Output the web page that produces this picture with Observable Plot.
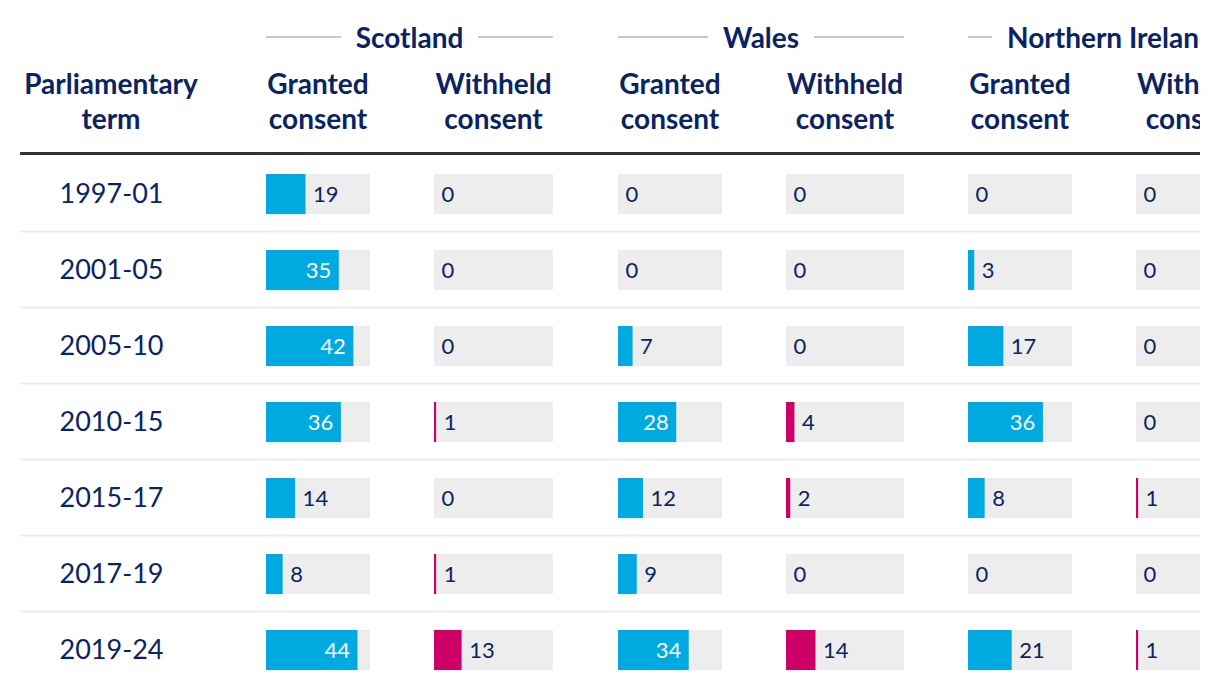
<!DOCTYPE html>
<html>
<head>
<meta charset="utf-8">
<script src="https://cdn.jsdelivr.net/npm/d3@7"></script>
<script src="https://cdn.jsdelivr.net/npm/@observablehq/plot@0.6"></script>
<style>
  html, body { margin: 0; padding: 0; background: #fff; }
  body { font-family: Lato, "Noto Sans", sans-serif; color: #0a2463; }
  #chart { position: relative; width: 1200px; height: 696px; overflow: hidden; }
  .group { position: absolute; top: 20px; height: 34px; display: flex; align-items: center; font-weight: 700; font-size: 28px; white-space: nowrap; }
  .group .line { flex: 1 1 0; height: 2px; background: #c8c8c8; min-width: 22px; }
  .group .lbl { padding: 0 15px; flex: 0 0 auto; }
  .colhead { position: absolute; top: 66px; font-weight: 700; font-size: 28px; line-height: 35px; text-align: center; white-space: nowrap; }
  .thick { position: absolute; top: 152px; left: 20px; width: 1300px; height: 3px; background: #333; }
  .plot { position: absolute; top: 156px; }
  .plot svg { display: block; overflow: visible; max-width: none !important; }
</style>
</head>
<body>
<div id="chart"></div>
<script>
const terms = ["1997-01", "2001-05", "2005-10", "2010-15", "2015-17", "2017-19", "2019-24"];
const nations = ["Scotland", "Wales", "Northern Ireland"];
const measures = ["Granted consent", "Withheld consent"];
const scotlandGranted = [19, 35, 42, 36, 14, 8, 44];
const scotlandWithheld = [0, 0, 0, 1, 0, 1, 13];
const walesGranted = [0, 0, 7, 28, 12, 9, 34];
const walesWithheld = [0, 0, 0, 4, 2, 0, 14];
const niGranted = [0, 3, 17, 36, 8, 0, 21];
const niWithheld = [0, 0, 0, 0, 1, 0, 1];

const NAVY = "#0a2463";
const CYAN = "#00a9e0";
const MAGENTA = "#cc0066";
const CELL = "#ededed";
const FONT = "Lato, 'Noto Sans', sans-serif";

const chart = document.getElementById("chart");

// layout (pixel positions of columns)
const columns = [
  {nation: 0, measure: 0, values: scotlandGranted, left: 266, width: 104, max: 50, color: CYAN},
  {nation: 0, measure: 1, values: scotlandWithheld, left: 434, width: 119, max: 56, color: MAGENTA},
  {nation: 1, measure: 0, values: walesGranted, left: 618, width: 104, max: 50, color: CYAN},
  {nation: 1, measure: 1, values: walesWithheld, left: 786, width: 118, max: 56, color: MAGENTA},
  {nation: 2, measure: 0, values: niGranted, left: 968, width: 104, max: 50, color: CYAN},
  {nation: 2, measure: 1, values: niWithheld, left: 1136, width: 118, max: 56, color: MAGENTA}
];
const ROW = 76, BAR = 40, H = ROW * terms.length;
const inset = (ROW - BAR) / 2;

// Header: group labels
nations.forEach((n, i) => {
  const a = columns[i * 2], b = columns[i * 2 + 1];
  const g = document.createElement("div");
  g.className = "group";
  g.style.left = a.left + "px";
  g.style.width = (b.left + b.width - a.left) + "px";
  g.innerHTML = `<div class="line"></div><div class="lbl">${n}</div><div class="line"></div>`;
  chart.appendChild(g);
});

// Header: column labels
function colHead(text, left, width) {
  const d = document.createElement("div");
  d.className = "colhead";
  d.style.left = (left - 40) + "px";
  d.style.width = (width + 80) + "px";
  d.innerHTML = text.split(" ").join("<br>");
  chart.appendChild(d);
}
colHead("Parliamentary term", 20, 182);
columns.forEach(c => colHead(measures[c.measure], c.left, c.width));

const thick = document.createElement("div");
thick.className = "thick";
chart.appendChild(thick);

function place(node, left, width) {
  const wrap = document.createElement("div");
  wrap.className = "plot";
  wrap.style.left = left + "px";
  wrap.style.width = width + "px";
  wrap.appendChild(node);
  chart.appendChild(wrap);
}

// Row separators
place(Plot.plot({
  width: 1300, height: H, margin: 0,
  style: {background: "transparent"},
  y: {type: "band", domain: terms, padding: 0, axis: null},
  marks: [
    Plot.ruleY(terms.slice(0, -1), {y: d => d, dy: ROW / 2 - 1, stroke: "#ebebeb", strokeWidth: 2})
  ]
}), 20, 1300);

// Term column
place(Plot.plot({
  width: 182, height: H, margin: 0,
  style: {fontFamily: FONT, color: NAVY, background: "transparent"},
  y: {type: "band", domain: terms, padding: 0, axis: null},
  marks: [
    Plot.text(terms, {y: d => d, text: d => d, frameAnchor: "middle", fontSize: 27, fill: NAVY})
  ]
}), 20, 182);

// Value columns
columns.forEach(c => {
  const data = terms.map((t, i) => ({term: t, value: c.values[i]}));
  place(Plot.plot({
    width: c.width, height: H, margin: 0,
    style: {fontFamily: FONT, background: "transparent"},
    x: {domain: [0, c.max], axis: null},
    y: {type: "band", domain: terms, padding: 0, axis: null},
    marks: [
      Plot.barX(data, {y: "term", x1: 0, x2: () => c.max, fill: CELL, insetTop: inset, insetBottom: inset}),
      Plot.barX(data, {y: "term", x: "value", fill: c.color, insetTop: inset, insetBottom: inset}),
      Plot.text(data.filter(d => d.value >= 25), {y: "term", x: "value", text: d => String(d.value), textAnchor: "end", dx: -8, fill: "#fff", fontSize: 22}),
      Plot.text(data.filter(d => d.value < 25), {y: "term", x: "value", text: d => String(d.value), textAnchor: "start", dx: 7, fill: NAVY, fontSize: 22})
    ]
  }), c.left, c.width);
});
</script>
</body>
</html>
